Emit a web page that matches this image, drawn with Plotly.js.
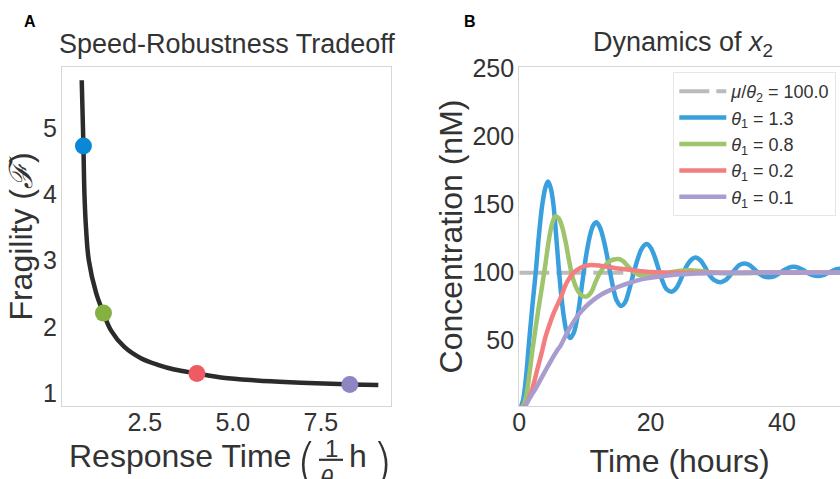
<!DOCTYPE html>
<html><head><meta charset="utf-8">
<script src="https://cdn.plot.ly/plotly-3.0.1.min.js"></script>
<style>html,body{margin:0;padding:0;background:#fff;overflow:hidden}#chart{width:840px;height:479px}</style>
</head><body><div id="chart"></div>
<script>
// ---------- Panel A data ----------
const respTime  = [0.71, 0.758, 0.787, 0.83, 0.91, 1.12, 1.327, 1.54, 1.92, 2.39, 2.87, 3.34, 3.98, 4.72, 5.67, 6.62, 7.57, 8.32, 9.13];
const fragility = [5.72, 4.73, 4.01, 3.51, 3.01, 2.51, 2.21, 1.95, 1.70, 1.53, 1.43, 1.36, 1.30, 1.235, 1.195, 1.168, 1.148, 1.135, 1.125];
const pointTime = [0.758, 1.327, 3.98, 8.32];
const pointFrag = [4.73, 2.21, 1.30, 1.135];
const pointColors = ['#0a88d6', '#84b13f', '#f05a62', '#8c86c3'];
const xTicksA = [2.5, 5.0, 7.5];
const xTickTextA = ['2.5', '5.0', '7.5'];
const yTicksA = [1, 2, 3, 4, 5];

// ---------- Panel B data ----------
const eqLabel = '<i>μ</i>/<i>θ</i><sub>2</sub> = 100.0';
const eqSpan = [0, 50];
const eqValue = [100, 100];

const tBlue = [0,0.5,1.0,1.5,2.0,2.5,3.0,3.5,4.0,4.37,4.8,5.2,5.6,6.0,6.4,6.8,7.2,7.75,8.3,8.8,9.3,9.8,10.3,10.8,11.3,11.75,12.3,12.8,13.3,13.8,14.3,14.8,15.5,16.1,16.6,17.1,17.6,18.1,18.7,19.4,20.0,20.6,21.2,21.8,22.4,23.2,23.9,24.5,25.1,25.7,26.3,26.9,27.6,28.3,29.0,29.7,30.6,31.4,32.1,32.8,33.5,34.3,35.1,35.8,36.5,37.2,38.0,38.8,39.6,40.3,41.0,41.75,42.5,43.3,44.0,44.8,45.5,46.3,47.0,47.8,48.5,49.2,50];
const yBlue = [0,5,22,50,76,100,128,150,163,167,162,150,128,104,83,67,57,52,56,66,82,100,116,128,135,137,133,125,114,101,89,80,75.5,78,85,94,103,111,118,121,118.5,112,103,94,88,86,88.5,94,101,106.5,110,111.2,109,104,98,94.5,93,94.5,98,102,105.5,106.8,105.5,102.5,99.5,97.3,96.6,97.3,99.5,101.8,103.6,104.4,103.8,101.8,99.6,98,97.6,98.2,99.8,101.6,102.7,103,102.6];

const tGreen = [0,0.5,1,1.5,2,2.5,3,3.5,4,4.5,5,5.5,6,6.5,7,7.5,8,8.5,9,9.6,10.3,11,11.6,12.3,13,13.7,14.4,15.1,15.8,16.5,17.2,18,19,20.3,21.5,23,24.5,25.8,27.5,29.5,31.5,34,37,42,50];
const yGreen = [0,1.5,8,24,43,60,76,91,107,124,136,141.5,140,134,124,111,99,91,86,83,82.5,86,93,100,105,108.3,109.7,110,108.5,105,101.5,98.8,97.5,97.3,98.3,100.3,101.5,101.8,101.2,100.2,99.6,99.6,99.9,100.1,100];

const tRed = [0,0.5,1,1.5,2,2.75,3.5,4,4.75,5.3,6.24,7.26,8.27,9.5,10.8,12.5,14.5,16.4,19.4,22,26,30,40,50];
const yRed = [0,1,3,8,15,29,43,53,64,71,81,93,100,104,105.6,105,103.5,102.4,100.7,100.2,99.9,99.9,100,100];

const tPurple = [0,0.5,1,1.72,2.5,3.75,4.8,5.78,6.24,7.3,8.78,10,11.3,12.5,13.85,15,16.4,18,19.4,22,24,26.3,30,35,40,50];
const yPurple = [0,0.5,3,9,15,26,35,43,46,56,67.6,74.5,80,84,87.2,89.5,92,94.3,95.8,97.5,98.6,99.3,99.8,100,100.1,100];

const seriesNames = ['<i>θ</i><sub>1</sub> = 1.3', '<i>θ</i><sub>1</sub> = 0.8', '<i>θ</i><sub>1</sub> = 0.2', '<i>θ</i><sub>1</sub> = 0.1'];
const seriesColors = ['#3aa0dd', '#9ec56c', '#f27e80', '#a99cce'];
const xTicksB = [0, 20, 40];
const yTicksB = [50, 100, 150, 200, 250];

// ---------- layout helpers ----------
const FONT = 'Liberation Sans, Arial, sans-serif';
const TXT = '#333333';
const L = 62, T = 67, R = 0, Bm = 73, W = 840, H = 479;
const PW = W - L - R, PH = H - T - Bm;
const px = p => (p - L) / PW;
const py = p => (H - Bm - p) / PH;
const ann = (text, x, y, size, extra) => Object.assign({text: text, x: px(x), y: py(y), xref: 'paper', yref: 'paper', xanchor: 'center', yanchor: 'middle',
  showarrow: false, font: {family: FONT, size: size, color: TXT}}, extra || {});
const parenFont = {family: 'DejaVu Sans, Liberation Sans, sans-serif', size: 54, color: TXT, weight: 200};

const traces = [
  {x: respTime, y: fragility, mode: 'lines', line: {color: '#2b2b2b', width: 4.5, shape: 'spline'}, showlegend: false, xaxis: 'x', yaxis: 'y'},
  {x: pointTime, y: pointFrag, mode: 'markers', marker: {size: 17, color: pointColors}, showlegend: false, xaxis: 'x', yaxis: 'y'},
  {x: eqSpan, y: eqValue, mode: 'lines', name: eqLabel, line: {color: '#bbbbbb', width: 4, dash: '30px,7px'}, xaxis: 'x2', yaxis: 'y2'},
  {x: tBlue, y: yBlue, mode: 'lines', name: seriesNames[0], line: {color: seriesColors[0], width: 4.5, shape: 'spline'}, xaxis: 'x2', yaxis: 'y2'},
  {x: tGreen, y: yGreen, mode: 'lines', name: seriesNames[1], line: {color: seriesColors[1], width: 4.5, shape: 'spline'}, xaxis: 'x2', yaxis: 'y2'},
  {x: tRed, y: yRed, mode: 'lines', name: seriesNames[2], line: {color: seriesColors[2], width: 4.5, shape: 'spline'}, xaxis: 'x2', yaxis: 'y2'},
  {x: tPurple, y: yPurple, mode: 'lines', name: seriesNames[3], line: {color: seriesColors[3], width: 4.5, shape: 'spline'}, xaxis: 'x2', yaxis: 'y2'}
];

const axisCommon = {showgrid: false, zeroline: false, showline: true, linecolor: '#d6d6d6', linewidth: 1.2, ticks: '', ticklen: 0,
  tickfont: {family: FONT, size: 25, color: TXT}};

const layout = {
  width: W, height: H,
  margin: {l: L, r: R, t: T, b: Bm, pad: 0},
  paper_bgcolor: '#ffffff', plot_bgcolor: '#ffffff',
  font: {family: FONT, color: TXT},
  xaxis: Object.assign({}, axisCommon, {domain: [0, px(391)], range: [0.15, 9.49], tickvals: xTicksA, ticktext: xTickTextA, mirror: true, anchor: 'y', ticklabelstandoff: -6}),
  yaxis: Object.assign({}, axisCommon, {domain: [0, 1], range: [0.81, 5.92], tickvals: yTicksA, mirror: true, anchor: 'x', ticklabelstandoff: -1,
    title: {text: 'Fragility (<i>ℱ</i>)', font: {family: FONT, size: 32, color: TXT}, standoff: 0}}),
  xaxis2: Object.assign({}, axisCommon, {domain: [px(519.3), 1], range: [0, 48.85], tickvals: xTicksB, mirror: true, anchor: 'y2', ticklabelstandoff: -6,
    title: {text: 'Time (hours)', font: {family: FONT, size: 32, color: TXT}, standoff: 28}}),
  yaxis2: Object.assign({}, axisCommon, {domain: [0, 1], range: [2, 251.2], tickvals: yTicksB, mirror: false, anchor: 'x2', ticklabelstandoff: -1,
    title: {text: 'Concentration (nM)', font: {family: FONT, size: 32, color: TXT}, standoff: 0}}),
  showlegend: true,
  legend: {x: px(673.3), y: py(72), xanchor: 'left', yanchor: 'top', bgcolor: 'rgba(255,255,255,0.85)', bordercolor: '#e6e6e6', borderwidth: 1,
    font: {family: FONT, size: 18, color: TXT}, itemwidth: 47, tracegroupgap: 0},
  annotations: [
    ann('<b>A</b>', 30, 21, 16, {font: {family: FONT, size: 16, color: '#000'}}),
    ann('<b>B</b>', 470, 21, 16, {font: {family: FONT, size: 16, color: '#000'}}),
    ann('Speed-Robustness Tradeoff', 226.7, 43.5, 27),
    ann('Dynamics of <i>x</i><sub>2</sub>', 683, 43.5, 27),
    ann('Response Time', 66.7, 456, 32, {xanchor: 'left'}),
    ann('(', 306, 463, 54, {font: parenFont}),
    ann('1', 331, 448, 24),
    ann('<i>θ</i><sub>1</sub>', 331, 463, 24, {yanchor: 'top'}),
    ann('h', 358, 456, 32),
    ann(')', 382, 463, 54, {font: parenFont})
  ],
  shapes: [
    {type: 'line', xref: 'paper', yref: 'paper', x0: px(319), x1: px(343), y0: py(459.8), y1: py(459.8), line: {color: TXT, width: 2.2}}
  ]
};

Plotly.newPlot('chart', traces, layout, {displayModeBar: false, responsive: false, staticPlot: true});
</script></body></html>
